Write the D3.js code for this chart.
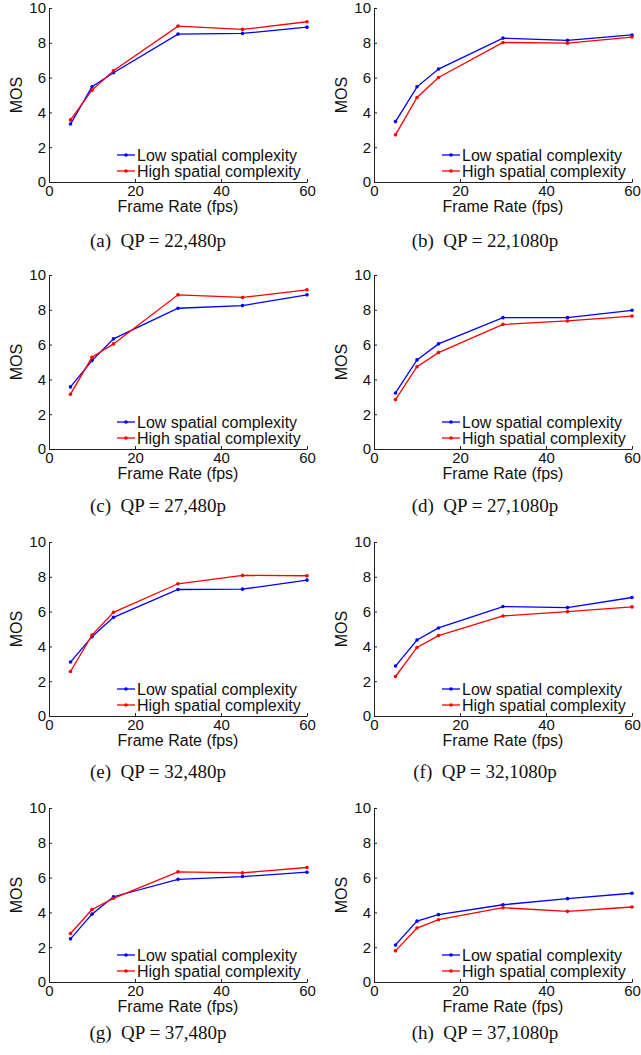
<!DOCTYPE html>
<html>
<head>
<meta charset="utf-8">
<script src="https://cdn.jsdelivr.net/npm/d3@7"></script>
<style>
  body { margin: 0; background: #fff; }
  svg text { font-family: "Liberation Sans", Arial, sans-serif; }
  .caption { font-family: "Liberation Serif", "Times New Roman", serif; }
</style>
</head>
<body>
<div id="chart"></div>
<script>
// Frame rates used in every panel.
var frameRates = [5, 10, 15, 30, 45, 60];
var xTicks = [0, 20, 40, 60];
var yTicks = [0, 2, 4, 6, 8, 10];
var seriesNames = ["Low spatial complexity", "High spatial complexity"];
var seriesColors = ["#0000ff", "#ff0000"];

var captions = [
  "(a)  QP = 22,480p", "(b)  QP = 22,1080p",
  "(c)  QP = 27,480p", "(d)  QP = 27,1080p",
  "(e)  QP = 32,480p", "(f)  QP = 32,1080p",
  "(g)  QP = 37,480p", "(h)  QP = 37,1080p"
];

// MOS values (low / high spatial complexity).
var lowA  = [3.33, 5.47, 6.28, 8.50, 8.54, 8.90];
var highA = [3.57, 5.28, 6.39, 8.96, 8.77, 9.21];
var lowB  = [3.47, 5.47, 6.49, 8.27, 8.14, 8.45];
var highB = [2.71, 4.86, 6.01, 8.02, 7.98, 8.33];
var lowC  = [3.57, 5.08, 6.33, 8.09, 8.24, 8.86];
var highC = [3.15, 5.27, 6.04, 8.86, 8.71, 9.15];
var lowD  = [3.22, 5.12, 6.04, 7.55, 7.55, 7.97];
var highD = [2.84, 4.73, 5.54, 7.16, 7.36, 7.64];
var lowE  = [3.10, 4.56, 5.67, 7.27, 7.29, 7.81];
var highE = [2.56, 4.65, 5.96, 7.60, 8.08, 8.06];
var lowF  = [2.87, 4.37, 5.06, 6.29, 6.23, 6.81];
var highF = [2.27, 3.94, 4.62, 5.75, 6.00, 6.27];
var lowG  = [2.48, 3.90, 4.90, 5.90, 6.06, 6.31];
var highG = [2.79, 4.17, 4.81, 6.33, 6.27, 6.58];
var lowH  = [2.13, 3.50, 3.87, 4.44, 4.79, 5.10];
var highH = [1.79, 3.10, 3.58, 4.27, 4.06, 4.31];

var lows = [lowA, lowB, lowC, lowD, lowE, lowF, lowG, lowH];
var highs = [highA, highB, highC, highD, highE, highF, highG, highH];

// Layout
var width = 641, height = 1055;
var plotW = 258, plotH = 174;
var colLeft = [49, 374];
var rowTop = [8, 275, 542, 808];
var captionY = [247, 512, 778, 1039];
var captionX = [158, 485];

var svg = d3.select("#chart").append("svg")
    .attr("width", width)
    .attr("height", height);

var x = d3.scaleLinear().domain([0, 60]).range([0, plotW]);
var y = d3.scaleLinear().domain([0, 10]).range([plotH, 0]);

var line = d3.line()
    .x(function(d) { return x(d[0]); })
    .y(function(d) { return y(d[1]); });

captions.forEach(function(cap, i) {
  var col = i % 2, row = Math.floor(i / 2);
  var g = svg.append("g")
      .attr("transform", "translate(" + colLeft[col] + "," + rowTop[row] + ")");

  // axes, ticks pointing inward like matlab
  var yAxis = g.append("g")
      .call(d3.axisLeft(y).tickValues(yTicks).tickSizeInner(-3).tickSizeOuter(0).tickPadding(3));
  var xAxis = g.append("g")
      .attr("transform", "translate(0," + plotH + ")")
      .call(d3.axisBottom(x).tickValues(xTicks).tickSizeInner(-3).tickSizeOuter(0).tickPadding(3));
  [xAxis, yAxis].forEach(function(a) {
    a.selectAll("path, line").attr("stroke", "#222").attr("stroke-width", 1);
    a.selectAll("text").attr("fill", "#111").style("font-size", "15px")
      .style("font-family", '"Liberation Sans", Arial, sans-serif');
  });

  g.append("text")
      .attr("x", plotW / 2)
      .attr("y", plotH + 30)
      .attr("text-anchor", "middle")
      .style("font-size", "16px")
      .attr("fill", "#111")
      .text("Frame Rate (fps)");

  g.append("text")
      .attr("transform", "translate(-27," + (plotH / 2) + ") rotate(-90)")
      .attr("text-anchor", "middle")
      .style("font-size", "16px")
      .attr("fill", "#111")
      .text("MOS");

  // data lines
  [lows[i], highs[i]].forEach(function(vals, s) {
    var pts = frameRates.map(function(f, k) { return [f, vals[k]]; });
    g.append("path")
        .datum(pts)
        .attr("fill", "none")
        .attr("stroke", seriesColors[s])
        .attr("stroke-width", 1.3)
        .attr("d", line);
    g.selectAll(".dot" + s)
        .data(pts)
        .enter()
        .append("circle")
        .attr("cx", function(d) { return x(d[0]); })
        .attr("cy", function(d) { return y(d[1]); })
        .attr("r", 1.8)
        .attr("fill", seriesColors[s]);
  });

  // legend, bottom right inside the axes
  seriesNames.forEach(function(name, s) {
    var ly = plotH - 27 + s * 16;
    g.append("line")
        .attr("x1", plotW - 190).attr("x2", plotW - 172)
        .attr("y1", ly).attr("y2", ly)
        .attr("stroke", seriesColors[s]).attr("stroke-width", 1.3);
    g.append("circle")
        .attr("cx", plotW - 181).attr("cy", ly).attr("r", 1.8)
        .attr("fill", seriesColors[s]);
    g.append("text")
        .attr("x", plotW - 170).attr("y", ly)
        .attr("dy", "0.35em")
        .style("font-size", "16px")
        .attr("fill", "#111")
        .text(name);
  });

  svg.append("text")
      .attr("class", "caption")
      .attr("x", captionX[col])
      .attr("y", captionY[row])
      .attr("text-anchor", "middle")
      .style("font-size", "19px")
      .attr("fill", "#111")
      .style("white-space", "pre")
      .text(cap);
});
</script>
</body>
</html>
